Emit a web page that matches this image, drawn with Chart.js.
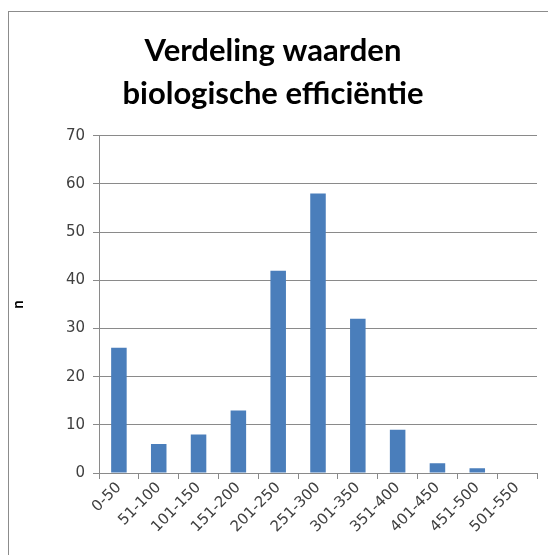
<!DOCTYPE html>
<html>
<head>
<meta charset="utf-8">
<script src="https://cdn.jsdelivr.net/npm/chart.js@4.4.1/dist/chart.umd.min.js"></script>
<style>
  html, body { margin: 0; padding: 0; background: #fff; }
  #frame {
    position: absolute; left: 8px; top: 11px;
    width: 540px; height: 544px;
    border-left: 1px solid #8c8c8c; border-top: 1px solid #8c8c8c;
  }
  #chart { display: block; }
</style>
</head>
<body>
<div id="frame"><canvas id="chart" width="539" height="543"></canvas></div>
<script>
// Data
const klassen = ["0-50", "51-100", "101-150", "151-200", "201-250", "251-300", "301-350", "351-400", "401-450", "451-500", "501-550"];
const aantallen = [26, 6, 8, 13, 42, 58, 32, 9, 2, 1, 0];
const yTicks = [0, 10, 20, 30, 40, 50, 60, 70];
const titel = ["Verdeling waarden", "biologische efficiëntie"];

const gridColor = "#8a8a8a";
const labelColor = "#404040";

Chart.defaults.font.family = "'DejaVu Sans', sans-serif";

// Initialize chart
document.addEventListener("DOMContentLoaded", () => {
    new Chart(document.getElementById("chart"), {
        type: "bar",
        data: {
            labels: klassen,
            datasets: [{
                label: "n",
                data: aantallen,
                backgroundColor: "#4a7ebb",
                borderWidth: 0,
                barPercentage: 0.39,
                categoryPercentage: 1.0
            }]
        },
        options: {
            responsive: false,
            animation: false,
            layout: { padding: { left: 0, right: 11, top: 0, bottom: 0 } },
            plugins: {
                legend: { display: false },
                tooltip: { enabled: false },
                title: {
                    display: true,
                    text: titel,
                    color: "#000",
                    font: { family: "Lato", size: 31, weight: "bold", lineHeight: 1.4 },
                    padding: { top: 17, bottom: 20 }
                }
            },
            scales: {
                x: {
                    offset: true,
                    afterFit: (scale) => { scale.height = 82; },
                    grid: {
                        offset: true,
                        drawOnChartArea: false,
                        drawTicks: true,
                        tickLength: 6,
                        color: gridColor
                    },
                    border: { color: gridColor, width: 1 },
                    ticks: {
                        color: labelColor,
                        font: { size: 15 },
                        minRotation: 45,
                        maxRotation: 45,
                        autoSkip: false,
                        padding: 0
                    }
                },
                y: {
                    min: 0,
                    max: 70,
                    afterFit: (scale) => { scale.width = 90; },
                    afterBuildTicks: (scale) => { scale.ticks = yTicks.map(v => ({ value: v })); },
                    grid: { color: gridColor, tickLength: 6, lineWidth: 1 },
                    border: { color: gridColor, width: 1 },
                    ticks: {
                        color: labelColor,
                        font: { size: 15 },
                        padding: 8
                    },
                    title: {
                        display: true,
                        text: "n",
                        color: "#000",
                        font: { family: "Lato", size: 15, weight: "bold" },
                        padding: { top: 0, bottom: 0 }
                    }
                }
            }
        }
    });
});
</script>
</body>
</html>
